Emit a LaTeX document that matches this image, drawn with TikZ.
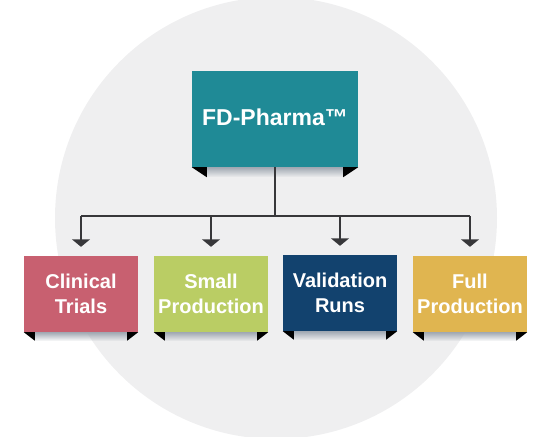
\documentclass[tikz,border=0pt]{standalone}
\usepackage{fontspec}
\setmainfont{Liberation Sans}
\usetikzlibrary{arrows.meta,fadings}
\definecolor{circc}{RGB}{239,239,240}
\definecolor{tealc}{RGB}{31,138,150}
\definecolor{pinkc}{RGB}{200,96,112}
\definecolor{limec}{RGB}{186,205,100}
\definecolor{navyc}{RGB}{18,66,110}
\definecolor{goldc}{RGB}{224,181,80}
\definecolor{linec}{RGB}{55,55,58}
\definecolor{shadc}{RGB}{160,168,178}
\begin{document}
\begin{tikzpicture}[x=1pt,y=-1pt,
  box/.style={rectangle, minimum width=114pt, minimum height=76pt, inner sep=0pt,
    text=white, align=center, font=\bfseries\fontsize{20}{24.5}\selectfont},
  topbox/.style={rectangle, minimum width=166pt, minimum height=96pt, inner sep=0pt,
    text=white, align=center, font=\bfseries\fontsize{23}{28}\selectfont, fill=tealc},
  conn/.style={draw=linec, line width=1.5pt},
  arr/.style={conn, -{Triangle[width=18pt,length=7.5pt]}},
  tabc/.style={fill=black},
  shadowstrip/.style={fill=shadc, path fading=south}]
\useasboundingbox (0,0) rectangle (555,437);
\fill[circc] (276,218) circle[radius=221];

% top box
\node[topbox] (top) at (275,119) {\raisebox{3pt}{FD-Pharma™}};
\fill[shadowstrip] ([xshift=15pt]top.south west) rectangle ([xshift=-15pt,yshift=-10pt]top.south east);
\fill[tabc] (top.south west) -- ++(15,0) -- ++(0,10) -- cycle;
\fill[tabc] (top.south east) -- ++(-15,0) -- ++(0,10) -- cycle;

% bottom boxes
\node[box, fill=pinkc] (b1) at (81,294) {Clinical\\Trials};
\node[box, fill=limec] (b2) at (211,294) {Small\\Production};
\node[box, fill=navyc] (b3) at (340,293) {Validation\\Runs};
\node[box, fill=goldc] (b4) at (470,294) {Full\\Production};

\foreach \n in {b1,b2,b3,b4}{
  \fill[shadowstrip] ([xshift=11pt]\n.south west) rectangle ([xshift=-11pt,yshift=-9pt]\n.south east);
  \fill[tabc] (\n.south west) -- ++(11,0) -- ++(0,8.5) -- cycle;
  \fill[tabc] (\n.south east) -- ++(-11,0) -- ++(0,8.5) -- cycle;
}

% connectors
\draw[conn] (top.south) -- ++(0,49) coordinate (j);
\draw[conn] (b1.north |- j) -- (b4.north |- j);
\foreach \n in {b1,b2,b3,b4}{
  \draw[arr] (\n.north |- j) -- ([yshift=9pt]\n.north);
}
\end{tikzpicture}
\end{document}
